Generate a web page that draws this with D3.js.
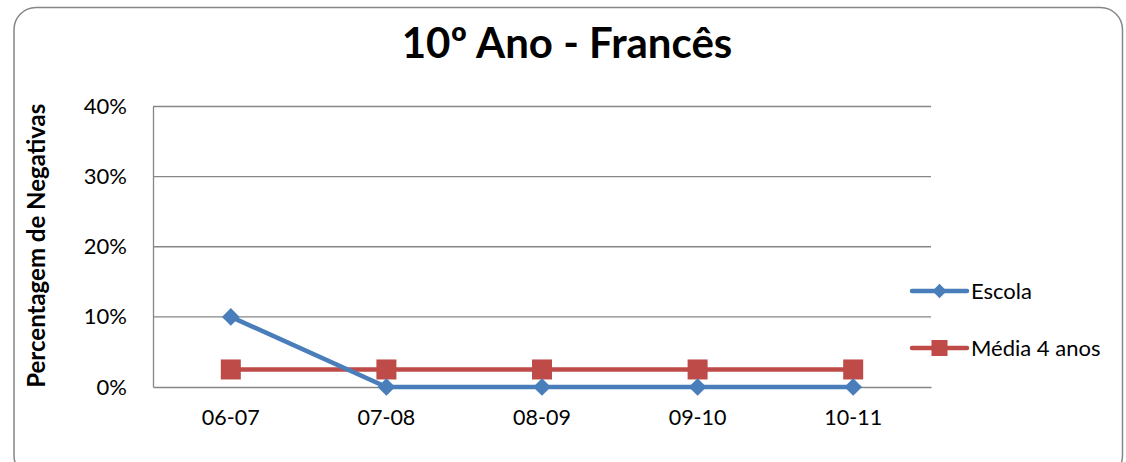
<!DOCTYPE html>
<html>
<head>
<meta charset="utf-8">
<script src="https://cdn.jsdelivr.net/npm/d3@7"></script>
<style>
  html, body { margin: 0; padding: 0; background: #fff; }
  svg { display: block; font-family: Lato, "Open Sans", sans-serif; }
</style>
</head>
<body>
<svg id="chart" width="1126" height="462"></svg>
<script>
// Percentage of failing grades per school year
const years = ["06-07", "07-08", "08-09", "09-10", "10-11"];
const escola = [0.10, 0, 0, 0, 0];
const media4 = [0.025, 0.025, 0.025, 0.025, 0.025];
const yTicks = [0, 0.1, 0.2, 0.3, 0.4];
const seriesNames = ["Escola", "Média 4 anos"];
const titleText = "10º Ano - Francês";
const yAxisTitle = "Percentagem de Negativas";

const FONT = "Lato, 'Open Sans', sans-serif";
const svg = d3.select("#chart");
const plot = { left: 153, right: 931, top: 106.5, bottom: 387 };
const colors = { escola: "#4A7EBB", media: "#BE4B48", axis: "#868686" };

// outer frame
svg.append("rect")
  .attr("x", 14).attr("y", 7.5)
  .attr("width", 1108.5).attr("height", 470)
  .attr("rx", 22).attr("ry", 22)
  .attr("fill", "#fff")
  .attr("stroke", "#868686").attr("stroke-width", 1.5);

const x = d3.scaleBand().domain(years).range([plot.left, plot.right]);
const y = d3.scaleLinear().domain([0, 0.4]).range([plot.bottom, plot.top]);

// horizontal gridlines
svg.append("g")
  .selectAll("line")
  .data(yTicks.filter(d => d > 0))
  .join("line")
  .attr("x1", plot.left).attr("x2", plot.right)
  .attr("y1", d => y(d)).attr("y2", d => y(d))
  .attr("stroke", colors.axis).attr("stroke-width", 1.3);

// y axis
const yAxis = svg.append("g")
  .attr("transform", `translate(${plot.left},0)`)
  .call(d3.axisLeft(y).tickValues(yTicks).tickFormat(d3.format(".0%")).tickSize(0).tickPadding(26));
yAxis.select(".domain").attr("stroke", colors.axis).attr("stroke-width", 1.3);
yAxis.selectAll("text").attr("font-size", 22).attr("fill", "#000")
  .attr("font-family", FONT);

// x axis
const xAxis = svg.append("g")
  .attr("transform", `translate(0,${plot.bottom})`)
  .call(d3.axisBottom(x).tickSize(0).tickPadding(23));
xAxis.select(".domain").attr("stroke", colors.axis).attr("stroke-width", 1.3);
xAxis.selectAll("text").attr("font-size", 21.5).attr("fill", "#000")
  .attr("font-family", FONT);

const cx = d => x(d) + x.bandwidth() / 2;
const line = d3.line().x(d => cx(d.year)).y(d => y(d.v));

const escolaData = years.map((yr, i) => ({ year: yr, v: escola[i] }));
const mediaData = years.map((yr, i) => ({ year: yr, v: media4[i] }));

// Média 4 anos series
svg.append("path").datum(mediaData)
  .attr("d", line).attr("fill", "none")
  .attr("stroke", colors.media).attr("stroke-width", 4.5);
svg.append("g").selectAll("rect").data(mediaData).join("rect")
  .attr("x", d => cx(d.year) - 10).attr("y", d => y(d.v) - 10)
  .attr("width", 20).attr("height", 20)
  .attr("fill", colors.media);

// Escola series
svg.append("path").datum(escolaData)
  .attr("d", line).attr("fill", "none")
  .attr("stroke", colors.escola).attr("stroke-width", 4.5);
const diamond = d3.symbol().type(d3.symbolDiamond2).size(200);
svg.append("g").selectAll("path").data(escolaData).join("path")
  .attr("transform", d => `translate(${cx(d.year)},${y(d.v)})`)
  .attr("d", diamond)
  .attr("fill", colors.escola);

// legend
const legend = svg.append("g");
const legendItems = [
  { name: seriesNames[0], color: colors.escola, y: 291, marker: "diamond" },
  { name: seriesNames[1], color: colors.media, y: 348, marker: "square" }
];
legendItems.forEach(item => {
  const g = legend.append("g");
  g.append("line")
    .attr("x1", 912).attr("x2", 967)
    .attr("y1", item.y).attr("y2", item.y)
    .attr("stroke", item.color).attr("stroke-width", 4.5)
    .attr("stroke-linecap", "round");
  if (item.marker === "diamond") {
    g.append("path")
      .attr("transform", `translate(939.5,${item.y})`)
      .attr("d", d3.symbol().type(d3.symbolDiamond2).size(130))
      .attr("fill", item.color);
  } else {
    g.append("rect")
      .attr("x", 939.5 - 8).attr("y", item.y - 8)
      .attr("width", 16).attr("height", 16)
      .attr("fill", item.color);
  }
  g.append("text")
    .attr("x", 971).attr("y", item.y)
    .attr("dy", "0.35em")
    .attr("font-size", 22)
    .attr("font-family", FONT)
    .attr("fill", "#000")
    .text(item.name);
});

// chart title
svg.append("text")
  .attr("x", 567).attr("y", 58)
  .attr("text-anchor", "middle")
  .attr("font-size", 42).attr("font-weight", "bold")
  .attr("font-family", FONT)
  .attr("fill", "#000")
  .text(titleText);

// y axis title
svg.append("text")
  .attr("transform", `translate(45,${(plot.top + plot.bottom) / 2 - 1}) rotate(-90)`)
  .attr("text-anchor", "middle")
  .attr("font-size", 24).attr("font-weight", "bold")
  .attr("font-family", FONT)
  .attr("fill", "#000")
  .text(yAxisTitle);
</script>
</body>
</html>
